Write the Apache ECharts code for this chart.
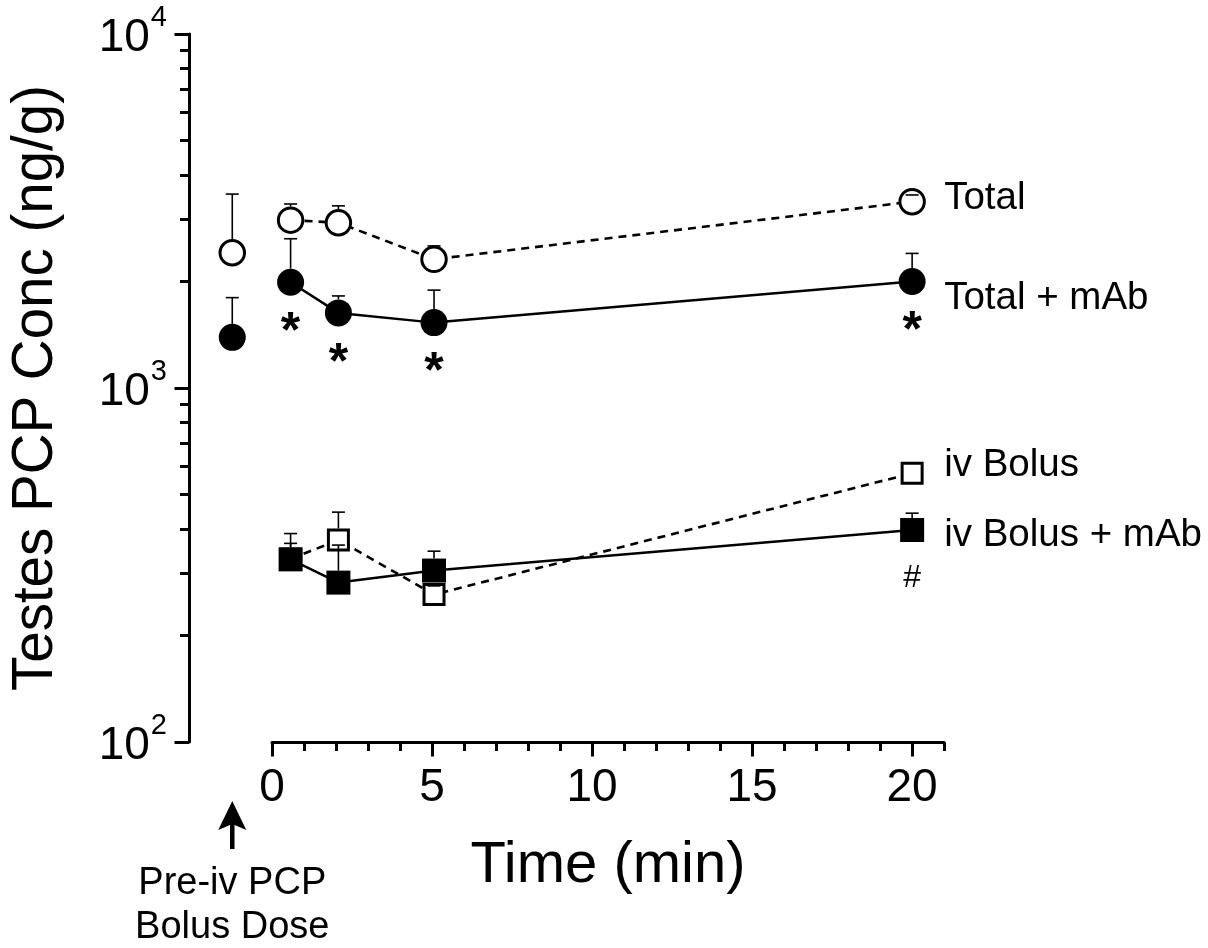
<!DOCTYPE html>
<html>
<head>
<meta charset="utf-8">
<script src="https://cdn.jsdelivr.net/npm/echarts@6/dist/echarts.min.js"></script>
<style>
html, body { margin: 0; padding: 0; background: #fff; }
#main { width: 1208px; height: 948px; }
</style>
</head>
<body>
<div id="main"></div>
<script>
// sampling times (min); the pre-dose point sits left of 0
var times = [0.5, 2, 5, 20];
var preTime = -1.33;

// Total (open circles)
var total = [2980, 2930, 2310, 3360];
var totalErr = [3310, 3270, 2520, 3510];
var totalPre = 2410;
var totalPreErr = 3530;

// Total + mAb (filled circles)
var totalMab = [1990, 1630, 1530, 2000];
var totalMabErr = [2640, 1820, 1890, 2400];
var totalMabPre = 1390;
var totalMabPreErr = 1800;

// iv Bolus (open squares)
var bolus = [329, 372, 261, 574];
var bolusErr = [364, 446, 276, null];

// iv Bolus + mAb (filled squares)
var bolusMab = [328, 282, 305, 397];
var bolusMabErr = [388, 360, 346, 443];

// significance marks
var starTimes = [0.5, 2, 5, 20];   // '*' under Total + mAb
var hashTimes = [20];              // '#' under iv Bolus + mAb

var xTicks = [0, 5, 10, 15, 20];
var yMinorTicks = [200, 300, 400, 500, 600, 700, 800, 900,
                   2000, 3000, 4000, 5000, 6000, 7000, 8000, 9000];

var FONT = '"Liberation Sans", Arial, Helvetica, sans-serif';

function pairs(xs, ys) {
    return xs.map(function (x, i) { return [x, ys[i]]; });
}

function errSeries(xs, vals, errs, r, z) {
    var data = [];
    for (var i = 0; i < xs.length; i++) {
        if (errs[i] != null) data.push([xs[i], vals[i], errs[i]]);
    }
    return {
        type: 'custom',
        xAxisIndex: 0,
        yAxisIndex: 0,
        silent: true,
        z: z,
        encode: { x: 0, y: [1, 2] },
        data: data,
        renderItem: function (params, api) {
            var c = api.coord([api.value(0), api.value(1)]);
            var t = api.coord([api.value(0), api.value(2)]);
            var edge = c[1] - r;
            var st = { stroke: '#000', lineWidth: 1.6 };
            var kids = [{
                type: 'line',
                shape: { x1: t[0] - 6.5, y1: t[1], x2: t[0] + 6.5, y2: t[1] },
                style: st
            }];
            if (t[1] < edge) {
                kids.push({
                    type: 'line',
                    shape: { x1: c[0], y1: edge, x2: t[0], y2: t[1] },
                    style: st
                });
            }
            return { type: 'group', children: kids };
        }
    };
}

function markSeries(xs, allX, vals, text, size, weight, dy, z) {
    var data = xs.map(function (x) { return [x, vals[allX.indexOf(x)]]; });
    return {
        type: 'custom',
        xAxisIndex: 0,
        yAxisIndex: 0,
        silent: true,
        clip: false,
        z: z,
        data: data,
        renderItem: function (params, api) {
            var p = api.coord([api.value(0), api.value(1)]);
            return {
                type: 'text',
                x: p[0],
                y: p[1] + dy,
                style: {
                    text: text, fontSize: size, fontWeight: weight, fontFamily: FONT,
                    fill: '#000', align: 'center', verticalAlign: 'middle'
                }
            };
        }
    };
}

var openCircle = { color: '#fff', borderColor: '#000', borderWidth: 3, opacity: 1 };
var fillCircle = { color: '#000', borderWidth: 0, opacity: 1 };
var openSquare = { color: '#fff', borderColor: '#000', borderWidth: 3, opacity: 1 };
var fillSquare = { color: '#000', borderWidth: 0, opacity: 1 };
var dashed = { color: '#000', width: 2.6, type: [8, 6] };
var solid = { color: '#000', width: 2.5, type: 'solid' };

function endLabel(dy) {
    return {
        show: true,
        formatter: '{a}',
        color: '#000',
        fontSize: 38.5,
        fontFamily: FONT,
        distance: 32,
        offset: [0, dy]
    };
}

var chart = echarts.init(document.getElementById('main'));
chart.setOption({
    animation: false,
    textStyle: { fontFamily: FONT, color: '#000' },
    grid: [
        { left: 186, right: 264, top: 34, bottom: 206 },
        { left: 272, right: 264, top: 34, bottom: 206 }
    ],
    xAxis: [
        // data axis, same scale as the drawn axis but reaching back to the y axis
        { type: 'value', gridIndex: 0, min: -2.6875, max: 21, show: false },
        {
            type: 'value', gridIndex: 1, min: 0, max: 21, position: 'bottom',
            name: 'Time (min)', nameLocation: 'middle', nameGap: 95,
            nameTextStyle: { fontSize: 58, color: '#000', fontFamily: FONT },
            axisLine: { show: true, onZero: false, lineStyle: { color: '#000', width: 3 } },
            axisTick: { show: true, customValues: xTicks, length: 14.5, lineStyle: { color: '#000', width: 3 } },
            axisLabel: { customValues: xTicks, fontSize: 46, color: '#000', margin: 23, fontFamily: FONT },
            splitLine: { show: false }
        },
        {
            type: 'value', gridIndex: 1, min: 0, max: 21, interval: 1, position: 'bottom',
            axisLine: { show: false, onZero: false },
            axisTick: { show: true, length: 9, lineStyle: { color: '#000', width: 3 } },
            axisLabel: { show: false },
            splitLine: { show: false }
        }
    ],
    yAxis: [
        {
            type: 'log', gridIndex: 0, min: 100, max: 10000, logBase: 10, position: 'left',
            name: 'Testes PCP Conc (ng/g)', nameLocation: 'middle', nameGap: 124,
            nameTextStyle: { fontSize: 56.5, color: '#000', fontFamily: FONT },
            axisLine: { show: true, onZero: false, lineStyle: { color: '#000', width: 3 } },
            axisTick: { show: true, length: 14.5, lineStyle: { color: '#000', width: 3 } },
            axisLabel: {
                margin: 22,
                formatter: function (v) {
                    return '{b|10}{s|' + Math.round(Math.log10(v)) + '}';
                },
                rich: {
                    b: { fontSize: 46, color: '#000', fontFamily: FONT, padding: [8, 0, 0, 0] },
                    s: { fontSize: 29, color: '#000', fontFamily: FONT, padding: [0, 0, 32, 1] }
                }
            },
            splitLine: { show: false }
        },
        {
            // minor log ticks, on a linear axis laid over the decades
            type: 'value', gridIndex: 0, min: 2, max: 4, position: 'left',
            axisLine: { show: false, onZero: false },
            axisTick: {
                show: true, length: 9, lineStyle: { color: '#000', width: 3 },
                customValues: yMinorTicks.map(function (v) { return Math.log10(v); })
            },
            axisLabel: { show: false },
            splitLine: { show: false }
        },
        { type: 'value', gridIndex: 1, show: false, min: 0, max: 1 }
    ],
    series: [
        {
            name: 'Total', type: 'line', xAxisIndex: 0, yAxisIndex: 0, z: 3,
            data: pairs(times, total),
            symbol: 'circle', symbolSize: 24.5, itemStyle: openCircle,
            lineStyle: dashed, silent: true, endLabel: endLabel(-3)
        },
        {
            name: 'Total pre', type: 'scatter', xAxisIndex: 0, yAxisIndex: 0, z: 3,
            data: [[preTime, totalPre]],
            symbol: 'circle', symbolSize: 24.5, itemStyle: openCircle, silent: true
        },
        errSeries(times.concat([preTime]), total.concat([totalPre]), totalErr.concat([totalPreErr]), 13.5, 4),
        {
            name: 'Total + mAb', type: 'line', xAxisIndex: 0, yAxisIndex: 0, z: 5,
            data: pairs(times, totalMab),
            symbol: 'circle', symbolSize: 27, itemStyle: fillCircle,
            lineStyle: solid, silent: true, endLabel: endLabel(17)
        },
        {
            name: 'Total + mAb pre', type: 'scatter', xAxisIndex: 0, yAxisIndex: 0, z: 5,
            data: [[preTime, totalMabPre]],
            symbol: 'circle', symbolSize: 27, itemStyle: fillCircle, silent: true
        },
        errSeries(times.concat([preTime]), totalMab.concat([totalMabPre]), totalMabErr.concat([totalMabPreErr]), 13.5, 6),
        {
            name: 'iv Bolus', type: 'line', xAxisIndex: 0, yAxisIndex: 0, z: 7,
            data: pairs(times, bolus),
            symbol: 'rect', symbolSize: 20, itemStyle: openSquare,
            lineStyle: dashed, silent: true, endLabel: endLabel(-8)
        },
        errSeries(times, bolus, bolusErr, 11.5, 8),
        {
            name: 'iv Bolus + mAb', type: 'line', xAxisIndex: 0, yAxisIndex: 0, z: 9,
            data: pairs(times, bolusMab),
            symbol: 'rect', symbolSize: 24, itemStyle: fillSquare,
            lineStyle: solid, silent: true, endLabel: endLabel(5)
        },
        errSeries(times, bolusMab, bolusMabErr, 12, 10),
        markSeries(starTimes, times, totalMab, '*', 50, 'bold', 51, 11),
        markSeries(hashTimes, times, bolusMab, '#', 32, 'normal', 48, 11),
        {
            // arrow and note under the pre-dose point
            type: 'custom', xAxisIndex: 0, yAxisIndex: 0, silent: true, clip: false, z: 11,
            data: [[preTime, 100]],
            renderItem: function (params, api) {
                var p = api.coord([api.value(0), api.value(1)]);
                var x = p[0], y = p[1];
                return {
                    type: 'group',
                    children: [
                        {
                            type: 'polygon',
                            shape: { points: [[x, y + 59], [x + 14, y + 88], [x, y + 82], [x - 14, y + 88]] },
                            style: { fill: '#000' }
                        },
                        {
                            type: 'line',
                            shape: { x1: x, y1: y + 80, x2: x, y2: y + 107 },
                            style: { stroke: '#000', lineWidth: 4.5 }
                        },
                        {
                            type: 'text', x: x, y: y + 164,
                            style: {
                                text: 'Pre-iv PCP\nBolus Dose', fontSize: 38, lineHeight: 44,
                                fontFamily: FONT, fill: '#000', align: 'center', verticalAlign: 'middle'
                            }
                        }
                    ]
                };
            }
        }
    ]
});
</script>
</body>
</html>
